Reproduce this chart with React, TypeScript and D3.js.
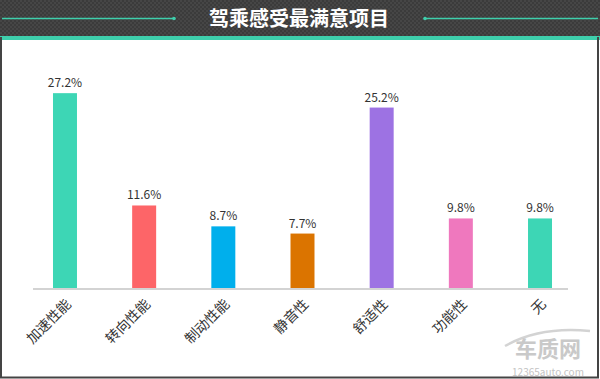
import React from "react";
import * as d3 from "d3";

const categories = ["加速性能", "转向性能", "制动性能", "静音性", "舒适性", "功能性", "无"];
const values = [27.2, 11.6, 8.7, 7.7, 25.2, 9.8, 9.8];
const colors = ["#3dd6b5", "#fd6568", "#00afec", "#db7400", "#9d72e3", "#ef78be", "#3dd6b5"];
const title = "驾乘感受最满意项目";

const W = 600;
const H = 379;
const FONT = "'Microsoft YaHei', 'Noto Sans CJK SC', 'Noto Sans', sans-serif";

export default function App() {
  const x = d3
    .scaleBand<string>()
    .domain(categories)
    .range([25.4, 579.6])
    .paddingInner(0.697)
    .paddingOuter(0.3485);
  const y = d3.scaleLinear().domain([0, 30]).range([289, 73]);

  return (
    <svg
      width={W}
      height={H}
      style={{ position: "absolute", left: 0, top: 0, background: "#fff" }}
      fontFamily={FONT}
    >
      <defs>
        <pattern id="chk" width="4" height="4" patternUnits="userSpaceOnUse">
          <rect width="4" height="4" fill="#3b3b3b" />
          <rect width="2" height="2" fill="#464646" />
          <rect x="2" y="2" width="2" height="2" fill="#464646" />
        </pattern>
      </defs>
      <rect x={0} y={0} width={W} height={H} fill="#fff" />
      {/* header */}
      <rect x={0} y={0} width={W} height={37} fill="url(#chk)" />
      <rect x={0} y={36} width={W} height={4} fill="#3ecfac" />
      <line x1={2} y1={18.5} x2={174} y2={18.5} stroke="#3ecfac" strokeWidth={1.5} />
      <circle cx={174} cy={18.5} r={1.8} fill="#3ecfac" />
      <line x1={425} y1={18.5} x2={598} y2={18.5} stroke="#3ecfac" strokeWidth={1.5} />
      <circle cx={425} cy={18.5} r={1.8} fill="#3ecfac" />
      <text
        x={299}
        y={25.5}
        textAnchor="middle"
        fill="#fff"
        fontSize={20}
        fontWeight="bold"
      >
        {title}
      </text>

      {/* border */}
      <line x1={1} y1={37} x2={1} y2={378} stroke="#444" strokeWidth={2} />
      <line x1={598} y1={37} x2={598} y2={378} stroke="#444" strokeWidth={2} />
      <line x1={0} y1={377.5} x2={599} y2={377.5} stroke="#444" strokeWidth={2} />

      {/* watermark */}
      <g opacity={0.9}>
        <path
          d="M 505 346 Q 540 326 590 331"
          fill="none"
          stroke="#cfcfcf"
          strokeWidth={2.5}
        />
        <text x={548} y={357} textAnchor="middle" fontSize={22} fontWeight="bold" fill="#c4c4c4">
          车质网
        </text>
        <text x={548} y={376} textAnchor="middle" fontSize={10} fill="#bdbdbd">
          12365auto.com
        </text>
      </g>

      {/* bars */}
      {categories.map((c, i) => (
        <rect
          key={c}
          x={x(c)}
          y={y(values[i])}
          width={x.bandwidth()}
          height={y(0) - y(values[i])}
          fill={colors[i]}
        />
      ))}

      {/* axis line */}
      <line x1={33} y1={289} x2={568} y2={289} stroke="#d3d3d3" strokeWidth={2} />

      {/* value labels */}
      {categories.map((c, i) => (
        <text
          key={c}
          x={(x(c) as number) + x.bandwidth() / 2}
          y={y(values[i]) - 6}
          textAnchor="middle"
          fontSize={12}
          fill="#333"
        >
          {values[i].toFixed(1)}%
        </text>
      ))}

      {/* category labels */}
      {categories.map((c) => {
        const cx = (x(c) as number) + x.bandwidth() / 2 + 7;
        const cy = 305;
        return (
          <text
            key={c}
            transform={`translate(${cx},${cy}) rotate(-45)`}
            textAnchor="end"
            fontSize={14}
            fill="#333"
          >
            {c}
          </text>
        );
      })}
    </svg>
  );
}
